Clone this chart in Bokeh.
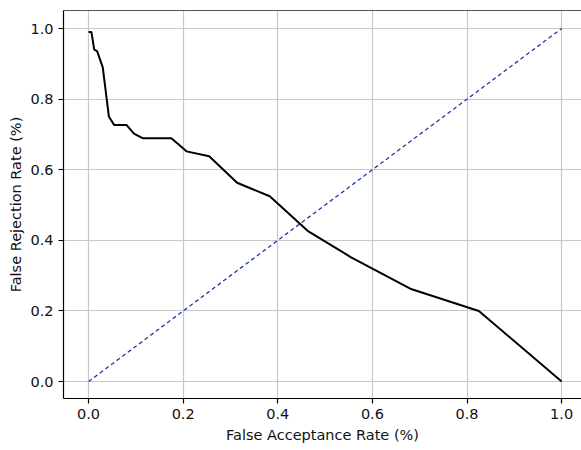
from bokeh.plotting import figure
from bokeh.embed import file_html
from bokeh.resources import INLINE
from bokeh.models import FixedTicker, Range1d, LinearAxis

# Data
far = [0.0, 0.006, 0.012, 0.018, 0.030, 0.043, 0.054, 0.080, 0.096, 0.115,
       0.175, 0.207, 0.255, 0.314, 0.383, 0.463, 0.555, 0.680, 0.825, 1.0]
frr = [0.99, 0.99, 0.94, 0.936, 0.89, 0.75, 0.727, 0.727, 0.702, 0.689,
       0.689, 0.652, 0.638, 0.563, 0.525, 0.427, 0.352, 0.263, 0.200, 0.0]
diag_x = [0.0, 1.0]
diag_y = [0.0, 1.0]
ticks = [0.0, 0.2, 0.4, 0.6, 0.8, 1.0]
tick_labels = {0.0: "0.0", 0.2: "0.2", 0.4: "0.4", 0.6: "0.6", 0.8: "0.8", 1.0: "1.0"}

p = figure(width=581, height=450, output_backend="svg", toolbar_location=None,
           x_range=Range1d(-0.053, 1.042), y_range=Range1d(-0.048, 1.051),
           min_border_left=63, min_border_right=0, min_border_top=10, min_border_bottom=52)

p.line(diag_x, diag_y, line_color="#2236a8", line_width=1.3, line_dash="4 3")
p.line(far, frr, line_color="black", line_width=2)

for ax in (p.xaxis[0], p.yaxis[0]):
    ax.ticker = FixedTicker(ticks=ticks)
    ax.major_label_overrides = tick_labels
    ax.major_label_text_font = "DejaVu Sans"
    ax.major_label_text_font_size = "14.5px"
    ax.major_label_text_color = "#111111"
    ax.axis_label_text_font = "DejaVu Sans"
    ax.axis_label_text_font_size = "14.5px"
    ax.axis_label_text_font_style = "normal"
    ax.axis_label_text_color = "#111111"
    ax.major_tick_in = 0
    ax.major_tick_out = 5
    ax.minor_tick_line_color = None
    ax.axis_line_color = "black"
    ax.axis_line_width = 1.2
    ax.major_tick_line_width = 1.2

p.xaxis.axis_label = "False Acceptance Rate (%)"
p.yaxis.axis_label = "False Rejection Rate (%)"
p.xaxis.major_label_standoff = 5
p.yaxis.major_label_standoff = 5
p.xaxis.axis_label_standoff = 5
p.yaxis.axis_label_standoff = 3

# top spine (no right spine visible in the reference)
top = LinearAxis(ticker=FixedTicker(ticks=[]), axis_line_color="#555555",
                 axis_line_width=1.2, major_tick_line_color=None,
                 minor_tick_line_color=None, major_label_text_font_size="0px")
p.add_layout(top, "above")

p.xgrid.grid_line_color = "#c8c8c8"
p.ygrid.grid_line_color = "#c8c8c8"
p.xgrid.grid_line_width = 1.2
p.ygrid.grid_line_width = 1.2

p.outline_line_color = None
p.background_fill_color = "white"
p.border_fill_color = "white"

open("out.html", "w").write(file_html(p, INLINE))
